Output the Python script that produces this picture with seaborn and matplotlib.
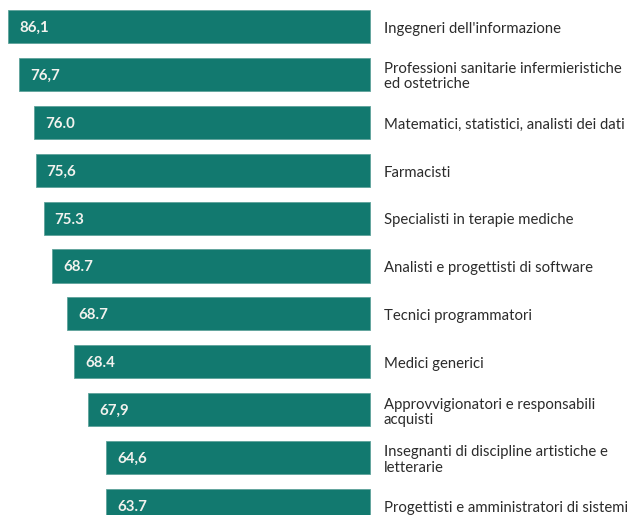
import matplotlib
matplotlib.use("Agg")
import matplotlib.pyplot as plt
import seaborn as sns
import pandas as pd

# Categorie (dall'alto verso il basso)
categorie = [
    "Ingegneri dell'informazione",
    "Professioni sanitarie infermieristiche\ned ostetriche",
    "Matematici, statistici, analisti dei dati",
    "Farmacisti",
    "Specialisti in terapie mediche",
    "Analisti e progettisti di software",
    "Tecnici programmatori",
    "Medici generici",
    "Approvvigionatori e responsabili\nacquisti",
    "Insegnanti di discipline artistiche e\nletterarie",
    "Progettisti e amministratori di sistemi",
]

# Etichette dei valori, come stampate nel grafico
etichette = ["86,1", "76,7", "76.0", "75,6", "75.3", "68.7",
             "68.7", "68.4", "67,9", "64,6", "63.7"]

# Lunghezze delle barre
lunghezze = [362, 351, 336, 334.5, 326.5, 318, 303, 296, 282, 264, 264]

df = pd.DataFrame({"categoria": categorie, "lunghezza": lunghezze})

sns.set_style("white")
plt.rcParams["font.family"] = ["Lato", "DejaVu Sans"]

fig = plt.figure(figsize=(6.27, 5.15), dpi=100)
ax = fig.add_axes([0, 0, 1, 1])

sns.barplot(data=df, x="lunghezza", y="categoria", orient="h",
            color="#12796f", saturation=1, width=0.69, ax=ax,
            edgecolor="#5fa39b", linewidth=0.6)

ax.set_xlim(370, -257)
ax.set_ylim(10.198, -0.553)

for i, (lung, et, cat) in enumerate(zip(lunghezze, etichette, categorie)):
    ax.text(lung - 11, i + 0.03, et, ha="left", va="center", color="#f2f2ee",
            fontsize=10.8, fontweight="bold")
    ax.text(-14, i + 0.05, cat, ha="left", va="center", color="#2b2b2b",
            fontsize=10.7, linespacing=1.1)

ax.set_axis_off()
fig.savefig("out.png", dpi=100)
